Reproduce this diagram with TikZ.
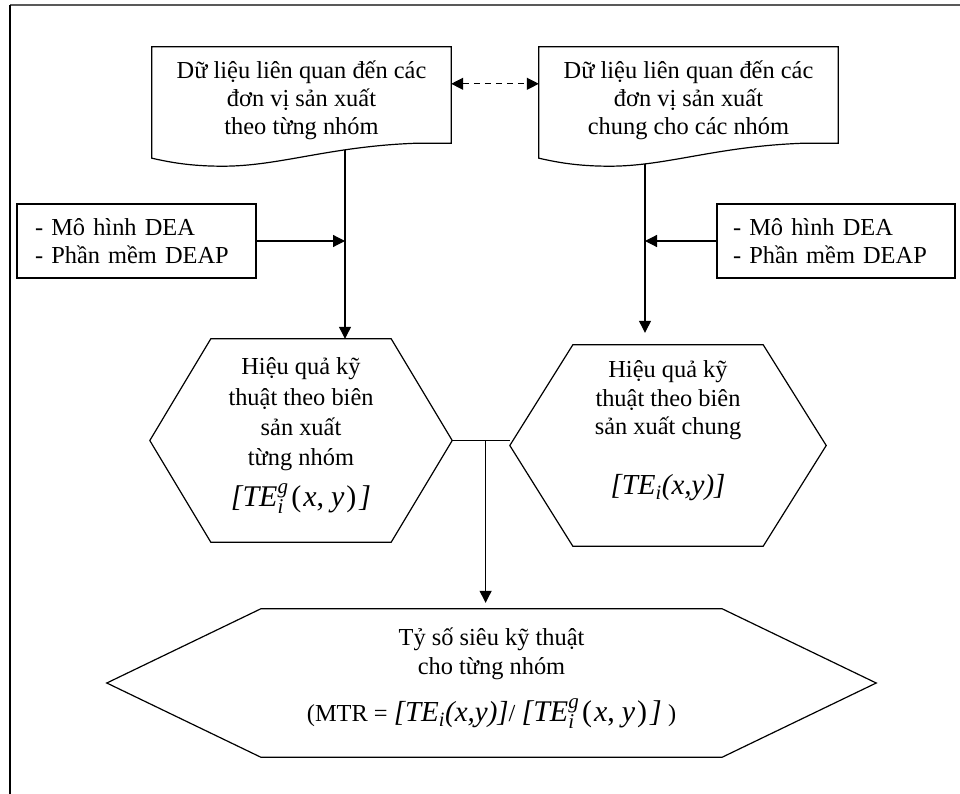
\documentclass[tikz,border=0pt]{standalone}
\usepackage{amsmath}
\usepackage{fontspec}
\setmainfont{Liberation Serif}
\usetikzlibrary{calc, arrows.meta}

\newcommand{\txtfont}{\fontsize{24.4pt}{28pt}\selectfont}
\newcommand{\scrfont}{\fontsize{21pt}{21pt}\selectfont}
% formulas
\newcommand{\TEgi}{{\fontsize{30pt}{30pt}\selectfont\itshape [TE\rlap{\raisebox{13pt}{\scrfont g}}\raisebox{-7pt}{\scrfont i}\hspace{8pt}\upshape(\hspace{2pt}\textit{x},\hspace{7pt}\textit{y}\hspace{2pt})\hspace{3pt}\itshape]}}
\newcommand{\TEi}{{\fontsize{29pt}{29pt}\selectfont\itshape [TE\textsubscript{i}(x,y)]}}

% outline of a document box (wavy bottom)
\newcommand{\docoutline}[1]{%
  \draw[line width=1.2pt] ($(#1.south east)+(0,-10)$) -- (#1.north east) -- (#1.north west)
    -- ($(#1.south west)+(0,5)$)
    .. controls ($(#1.south west)+(18,9)$) and ($(#1.south west)+(38,13)$) .. ($(#1.south west)+(71,13)$)
    .. controls ($(#1.south west)+(128,13)$) and ($(#1.south west)+(178,-7)$) .. ($(#1.south east)+(-34,-10)$)
    -- cycle;}

% outline of a hexagon box, #2 = depth of the side points
\newcommand{\hexoutline}[2]{%
  \coordinate (#1-w) at ($(#1.west)+(-#2,0)$);
  \coordinate (#1-e) at ($(#1.east)+(#2,0)$);
  \draw[line width=1.2pt] (#1.north west) -- (#1.north east) -- (#1-e)
    -- (#1.south east) -- (#1.south west) -- (#1-w) -- cycle;}

\begin{document}
\begin{tikzpicture}[
  x=1pt, y=-1pt,
  docb/.style={minimum width=299pt, minimum height=106pt, inner sep=0pt,
               align=center, font=\txtfont},
  deab/.style={draw, line width=1.2pt, minimum height=74pt, text width=203pt,
               inner xsep=18pt, inner ysep=0pt, align=left, font=\txtfont},
  hexb/.style={inner sep=0pt, align=center},
  arr/.style={-{Triangle[length=12pt, width=12pt]}, line width=1.2pt},
  dasharr/.style={{Triangle[length=12pt, width=12pt]}-{Triangle[length=12pt, width=12pt]},
                  dash pattern=on 6pt off 5pt, line width=1.2pt},
]
\useasboundingbox (0,0) rectangle (960,794);

% page frame (top and left edges)
\draw[line width=1.5pt, black!65] (10,5) -- (960,5);
\draw[line width=1.2pt] (10,5) -- (10,794);

% Data boxes
\node[docb] (docL) at (301.5, 100) {Dữ liệu liên quan đến các\\đơn vị sản xuất\\theo từng nhóm};
\node[docb] (docR) at (688.5, 100) {Dữ liệu liên quan đến các\\đơn vị sản xuất\\chung cho các nhóm};
\docoutline{docL}
\docoutline{docR}

% Method boxes
\node[deab] (deaL) at (136.5, 241) {- Mô hình DEA\\- Phần mềm DEAP};
\node[deab, text width=206pt, inner xsep=16pt] (deaR) at (836, 241) {- Mô hình DEA\\- Phần mềm DEAP};

% Efficiency hexagons
\node[hexb, font=\fontsize{24.4pt}{30.3pt}\selectfont, minimum width=180pt, minimum height=203pt] (hexL) at (301, 440.5)
  {Hiệu quả kỹ\\thuật theo biên\\sản xuất\\từng nhóm\\[11pt]\TEgi\\[-14pt]\mbox{}};
\node[hexb, font=\fontsize{24.4pt}{28.5pt}\selectfont, minimum width=190pt, minimum height=201pt] (hexR) at (668, 445.5)
  {Hiệu quả kỹ\\thuật theo biên\\sản xuất chung\\[31pt]\TEi\\[7pt]\mbox{}};
\hexoutline{hexL}{61}
\hexoutline{hexR}{63}

% Ratio hexagon
\node[hexb, font=\fontsize{24.4pt}{29pt}\selectfont, minimum width=461pt, minimum height=148pt] (hexB) at (491.5, 683)
  {Tỷ số siêu kỹ thuật\\cho từng nhóm\\[18pt](MTR = \TEi/ \TEgi{} )\\[-12pt]\mbox{}};
\hexoutline{hexB}{154}

% Arrows: data -> hexagons
\draw[arr] ($(docL.south)+(43.5,-3)$) coordinate (dL) -- (dL |- hexL.north);
\draw[arr, shorten >=12pt] ($(docR.south)+(-43.5,11)$) coordinate (dR) -- (dR |- hexR.north);

% Arrows: methods -> data lines
\draw[arr] (deaL.east) -- (deaL.east -| dL);
\draw[arr] (deaR.west) -- (deaR.west -| dR);

% Dashed link between data boxes
\draw[dasharr] ($(docL.north east)+(0,37)$) -- ($(docR.north west)+(0,37)$);

% Hexagons -> ratio
\draw[line width=1.2pt] (hexL-e) -- (hexL-e -| hexR-w);
\coordinate (jM) at ($(hexL-e)!0.58!(hexL-e -| hexR-w)$);
\draw[arr, shorten >=6pt] (jM) -- (jM |- hexB.north);

\end{tikzpicture}
\end{document}
